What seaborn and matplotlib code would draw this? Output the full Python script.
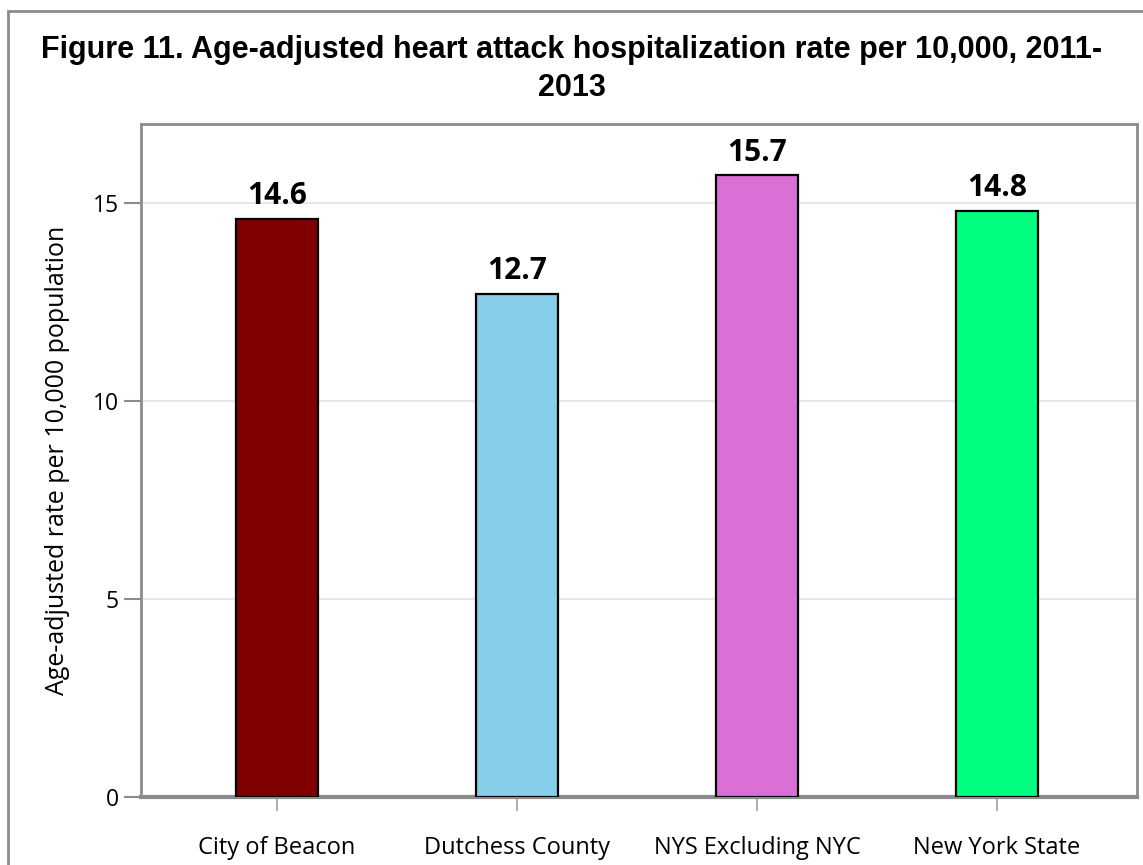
import matplotlib
matplotlib.use("Agg")
import pandas as pd
import seaborn as sns
import matplotlib.pyplot as plt
from matplotlib.patches import Rectangle

# data
areas = ['City of Beacon', 'Dutchess County', 'NYS Excluding NYC', 'New York State']
rates = [14.6, 12.7, 15.7, 14.8]
bar_colors = ['#800000', '#87CEEB', '#DA70D6', '#00FF7F']

df = pd.DataFrame({'area': areas, 'rate': rates})

sns.set_theme(style='white')
plt.rcParams['font.family'] = ['Open Sans', 'DejaVu Sans']
plt.rcParams['text.color'] = 'black'
plt.rcParams['xtick.color'] = 'black'
plt.rcParams['ytick.color'] = 'black'
plt.rcParams['axes.labelcolor'] = 'black'

W, H = 1143, 865
fig = plt.figure(figsize=(W / 100, H / 100), dpi=100)
ax = fig.add_axes([141 / W, 1 - 797 / H, (1137 - 141) / W, (797 - 124) / H])

sns.barplot(data=df, x='area', y='rate', hue='area', palette=bar_colors, saturation=1,
            width=0.34, edgecolor='black', linewidth=1.6, legend=False, ax=ax, zorder=3)

ax.set_xlim(-0.567, 3.583)
ax.set_ylim(0, 17)
ax.set_yticks([0, 5, 10, 15])
ax.yaxis.grid(True, color='#e3e3e3', linewidth=1.2, zorder=0)
ax.set_axisbelow(True)

for spine in ax.spines.values():
    spine.set_color('#8c8c8c')
    spine.set_linewidth(2)
ax.spines['bottom'].set_linewidth(3)

ax.tick_params(axis='y', length=12, width=1.5, color='#8c8c8c', labelsize=16.5, pad=4, left=True)
ax.tick_params(axis='x', length=10, width=1.2, color='#a0a0a0', labelsize=17, pad=18, bottom=True)
ax.set_xlabel('')
ax.set_ylabel('Age-adjusted rate per 10,000 population', fontsize=18, labelpad=16)

for i, v in enumerate(rates):
    ax.text(i, v + 0.2, f'{v}', ha='center', va='bottom', fontsize=21.5, fontweight='bold')

fig.text(0.5, 1 - 69 / H, 'Figure 11. Age-adjusted heart attack hospitalization rate per 10,000, 2011-\n2013',
         ha='center', va='center', fontsize=22, fontweight='bold', family='Liberation Sans',
         linespacing=1.33)

# outer frame
fig.patches.append(Rectangle((8 / W, -0.05), 1.2, 1 - 11 / H + 0.05, transform=fig.transFigure,
                             fill=False, edgecolor='#8c8c8c', linewidth=2))

fig.savefig('out.png', dpi=100)
